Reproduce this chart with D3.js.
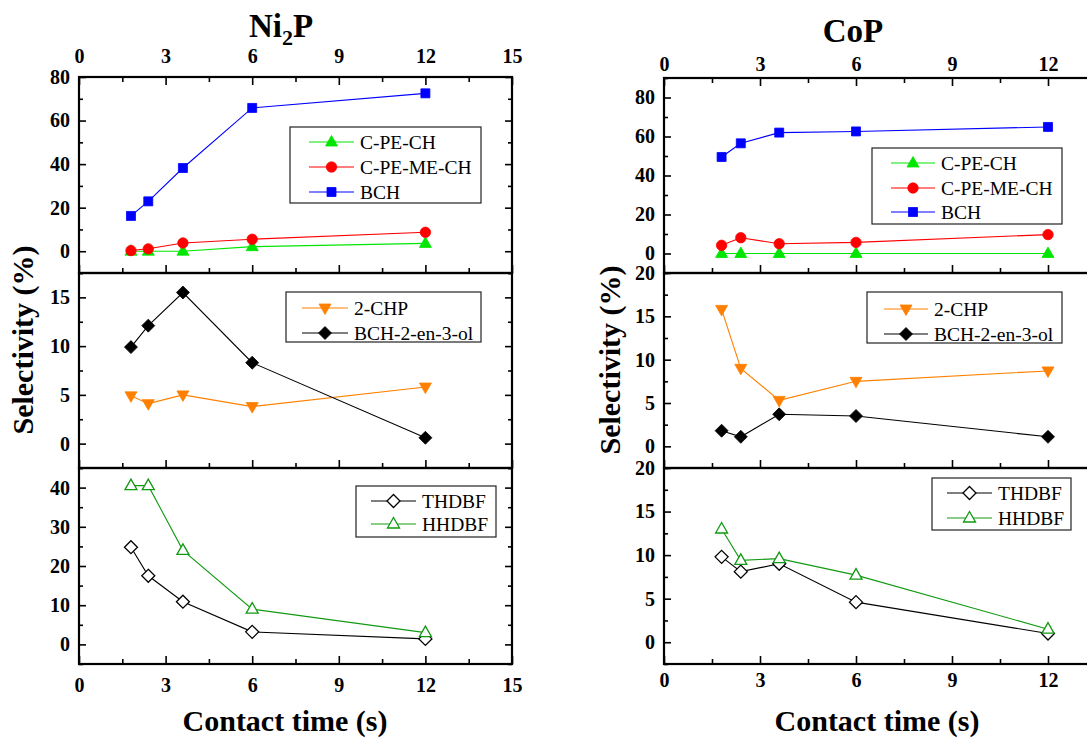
<!DOCTYPE html>
<html>
<head>
<meta charset="utf-8">
<script src="https://cdn.jsdelivr.net/npm/d3@7"></script>
<style>
  body { margin: 0; background: #fff; }
  .tick line { stroke: #000; stroke-width: 1.6; }
</style>
</head>
<body>
<div id="chart"></div>
<script>
// contact time (s) — same for both catalysts
const contactTime = [1.8, 2.4, 3.6, 6, 12];

// Ni2P selectivities (%)
const ni2pCPECH   = [0, 0, 0, 2.1, 3.6];
const ni2pCPEMECH = [0.3, 1.1, 3.8, 5.5, 8.7];
const ni2pBCH     = [16.2, 22.9, 38.2, 65.8, 72.5];
const ni2pCHP     = [4.9, 4.1, 5.0, 3.8, 5.8];
const ni2pBCHol   = [9.9, 12.1, 15.5, 8.3, 0.6];
const ni2pTHDBF   = [24.8, 17.5, 10.9, 3.2, 1.4];
const ni2pHHDBF   = [40.5, 40.5, 24.0, 9.0, 3.0];

// CoP selectivities (%)
const copCPECH   = [0, 0, 0, 0, 0];
const copCPEMECH = [4.2, 8.1, 5.0, 5.7, 9.7];
const copBCH     = [49.5, 56.5, 62.0, 62.6, 64.9];
const copCHP     = [15.8, 9.0, 5.3, 7.5, 8.7];
const copBCHol   = [1.8, 1.1, 3.7, 3.5, 1.1];
const copTHDBF   = [9.8, 8.1, 9.0, 4.6, 1.0];
const copHHDBF   = [13.0, 9.4, 9.6, 7.7, 1.5];

const xTicks = [0, 3, 6, 9, 12, 15];

const width = 1087, height = 744;
const FONT = '"Liberation Serif", "Times New Roman", serif';

const style = {
    'C-PE-CH':       { color: '#00e600', marker: 'triUp',   open: false },
    'C-PE-ME-CH':    { color: '#ff0000', marker: 'circle',  open: false },
    'BCH':           { color: '#0000ff', marker: 'square',  open: false },
    '2-CHP':         { color: '#ff8000', marker: 'triDown', open: false },
    'BCH-2-en-3-ol': { color: '#000000', marker: 'diamond', open: false },
    'THDBF':         { color: '#000000', marker: 'diamond', open: true },
    'HHDBF':         { color: '#119911', marker: 'triUp',   open: true }
};

// marker outlines, centred on 0,0
function markerPath(type) {
    switch (type) {
        case 'square':  return 'M-4.5,-4.5H4.5V4.5H-4.5Z';
        case 'circle':  return 'M5.2,0A5.2,5.2 0 1,1 -5.2,0A5.2,5.2 0 1,1 5.2,0Z';
        case 'triUp':   return 'M0,-6.5L6,4L-6,4Z';
        case 'triDown': return 'M0,6.5L6,-4L-6,-4Z';
        case 'diamond': return 'M0,-6.5L6.5,0L0,6.5L-6.5,0Z';
    }
}

const figures = [
    {
        title: 'Ni', sub: '2', titleEnd: 'P', titleX: 281, titleY: 37,
        x0: 79, unit: (512 - 79) / 15, xMax: 15, topLabelY: 63, bottomLabelY: 692,
        yLabelX: 33, yLabelY: 340, xLabelX: 285,
        panels: [
            { top: 77, bottom: 273, domain: [-10, 80], major: 20, minor: 10, labels: [0, 20, 40, 60, 80],
              series: [['C-PE-CH', ni2pCPECH], ['C-PE-ME-CH', ni2pCPEMECH], ['BCH', ni2pBCH]],
              legend: { x: 290, y: 127, w: 191, h: 76, rows: [142, 167, 192], l0: 309, l1: 354, tx: 360 } },
            { top: 273, bottom: 468, domain: [-2.5, 17.5], major: 5, minor: 2.5, labels: [0, 5, 10, 15],
              series: [['2-CHP', ni2pCHP], ['BCH-2-en-3-ol', ni2pBCHol]],
              legend: { x: 286, y: 292, w: 195, h: 50, rows: [308, 333], l0: 302, l1: 348, tx: 354 } },
            { top: 468, bottom: 664, domain: [-5, 45], major: 10, minor: 5, labels: [0, 10, 20, 30, 40],
              series: [['THDBF', ni2pTHDBF], ['HHDBF', ni2pHHDBF]],
              legend: { x: 356, y: 486, w: 140, h: 51, rows: [501, 524], l0: 371, l1: 416, tx: 422 } }
        ]
    },
    {
        title: 'CoP', sub: '', titleEnd: '', titleX: 853, titleY: 42,
        x0: 664, unit: (1048 - 664) / 12, xMax: 12, topLabelY: 71, bottomLabelY: 687,
        yLabelX: 620, yLabelY: 360, xLabelX: 877,
        panels: [
            { top: 78, bottom: 273, domain: [-10, 90], major: 20, minor: 10, labels: [0, 20, 40, 60, 80],
              series: [['C-PE-CH', copCPECH], ['C-PE-ME-CH', copCPEMECH], ['BCH', copBCH]],
              legend: { x: 872, y: 148, w: 190, h: 76, rows: [163, 188, 212], l0: 891, l1: 935, tx: 941 } },
            { top: 273, bottom: 468, domain: [-2.5, 20], major: 5, minor: 2.5, labels: [0, 5, 10, 15, 20],
              series: [['2-CHP', copCHP], ['BCH-2-en-3-ol', copBCHol]],
              legend: { x: 867, y: 292, w: 195, h: 51, rows: [309, 334], l0: 884, l1: 928, tx: 934 } },
            { top: 468, bottom: 664, domain: [-2.5, 20], major: 5, minor: 2.5, labels: [0, 5, 10, 15, 20],
              series: [['THDBF', copTHDBF], ['HHDBF', copHHDBF]],
              legend: { x: 932, y: 478, w: 139, h: 52, rows: [493, 518], l0: 947, l1: 992, tx: 998 } }
        ]
    }
];

const svg = d3.select('#chart').append('svg')
    .attr('width', width)
    .attr('height', height)
    .style('display', 'block');

function stepValues(domain, step) {
    const out = [];
    for (let v = Math.ceil(domain[0] / step) * step; v <= domain[1] + 1e-9; v += step) out.push(+v.toFixed(4));
    return out;
}

function drawMarker(g, type, cx, cy) {
    const s = style[type];
    g.append('path')
        .attr('d', markerPath(s.marker))
        .attr('transform', `translate(${cx},${cy})`)
        .attr('fill', s.open ? '#fff' : s.color)
        .attr('stroke', s.color)
        .attr('stroke-width', s.open ? 1.3 : 0.8);
}

// d3 axes put sans-serif on their group; switch to bold serif
function tidyAxis(sel) {
    sel.selectAll('.domain').remove();
    sel.attr('font-family', FONT).attr('font-size', 20).attr('font-weight', 'bold');
    sel.selectAll('text').attr('font-family', FONT).attr('font-weight', 'bold').attr('fill', '#000');
}

figures.forEach(fig => {
    const x = d3.scaleLinear().domain([0, 15]).range([fig.x0, fig.x0 + fig.unit * 15]);
    const xMinor = stepValues([0, 15], 1.5).filter(v => xTicks.indexOf(v) < 0);
    const xLab = d3.format('d');
    const xFmt = v => v <= fig.xMax ? xLab(v) : '';
    const right = x(15);
    const fg = svg.append('g');

    fig.panels.forEach((p, i) => {
        const y = d3.scaleLinear().domain(p.domain).range([p.bottom, p.top]);
        const g = fg.append('g');
        const yMajor = stepValues(p.domain, p.major);
        const yMinor = stepValues(p.domain, p.minor).filter(v => yMajor.indexOf(v) < 0);

        // y axis, left, inward ticks
        const yl = g.append('g').attr('transform', `translate(${fig.x0},0)`);
        yl.call(d3.axisLeft(y).tickValues(yMajor)
            .tickSize(-7).tickSizeOuter(0).tickPadding(9)
            .tickFormat(v => p.labels.indexOf(v) >= 0 ? v : ''));
        yl.append('g').call(d3.axisLeft(y).tickValues(yMinor).tickSize(-4).tickSizeOuter(0).tickFormat(''));
        tidyAxis(yl);

        // y axis, right mirror
        const yr = g.append('g').attr('transform', `translate(${right},0)`);
        yr.call(d3.axisRight(y).tickValues(yMajor).tickSize(-7).tickSizeOuter(0).tickFormat(''));
        yr.append('g').call(d3.axisRight(y).tickValues(yMinor).tickSize(-4).tickSizeOuter(0).tickFormat(''));
        tidyAxis(yr);

        // x ticks at bottom of each panel
        const isBottom = i === fig.panels.length - 1;
        const xb = g.append('g').attr('transform', `translate(0,${p.bottom})`);
        xb.call(d3.axisBottom(x).tickValues(xTicks).tickSize(-8).tickSizeOuter(0)
            .tickPadding(fig.bottomLabelY - p.bottom - 14)
            .tickFormat(isBottom ? xFmt : ''));
        xb.append('g').call(d3.axisBottom(x).tickValues(xMinor).tickSize(-5).tickSizeOuter(0).tickFormat(''));
        tidyAxis(xb);

        if (i === 0) {
            const xt = g.append('g').attr('transform', `translate(0,${p.top})`);
            xt.call(d3.axisTop(x).tickValues(xTicks).tickSize(-8).tickSizeOuter(0)
                .tickPadding(p.top - fig.topLabelY).tickFormat(xFmt));
            xt.append('g').call(d3.axisTop(x).tickValues(xMinor).tickSize(-5).tickSizeOuter(0).tickFormat(''));
            tidyAxis(xt);
        }

        // frame
        g.append('rect')
            .attr('x', fig.x0).attr('y', p.top)
            .attr('width', right - fig.x0).attr('height', p.bottom - p.top)
            .attr('fill', 'none').attr('stroke', '#000').attr('stroke-width', 2.2);

        // series
        const line = d3.line().x(d => x(d[0])).y(d => y(d[1]));
        p.series.forEach(([name, vals]) => {
            const pts = contactTime.map((t, k) => [t, vals[k]]);
            g.append('path').datum(pts)
                .attr('d', line)
                .attr('fill', 'none')
                .attr('stroke', style[name].color)
                .attr('stroke-width', 1.1);
        });
        p.series.forEach(([name, vals]) => {
            contactTime.forEach((t, k) => drawMarker(g, name, x(t), y(vals[k])));
        });

        // legend
        const L = p.legend;
        const lg = g.append('g');
        lg.append('rect').attr('x', L.x).attr('y', L.y).attr('width', L.w).attr('height', L.h)
            .attr('fill', '#fff').attr('stroke', '#222').attr('stroke-width', 1.2);
        p.series.forEach(([name], k) => {
            const ry = L.rows[k];
            lg.append('line').attr('x1', L.l0).attr('x2', L.l1).attr('y1', ry).attr('y2', ry)
                .attr('stroke', style[name].color).attr('stroke-width', 1.1);
            drawMarker(lg, name, (L.l0 + L.l1) / 2, ry);
            lg.append('text').attr('x', L.tx).attr('y', ry + 7)
                .attr('font-family', FONT).attr('font-size', 19.5)
                .text(name);
        });
    });

    // title
    const t = fg.append('text')
        .attr('x', fig.titleX).attr('y', fig.titleY)
        .attr('text-anchor', 'middle')
        .attr('font-family', FONT)
        .attr('font-weight', 'bold').attr('font-size', 33);
    t.append('tspan').text(fig.title);
    if (fig.sub) {
        t.append('tspan').attr('font-size', 22).attr('dy', 8).text(fig.sub);
        t.append('tspan').attr('dy', -8).text(fig.titleEnd);
    }

    // axis titles
    fg.append('text')
        .attr('transform', `translate(${fig.yLabelX},${fig.yLabelY}) rotate(-90)`)
        .attr('text-anchor', 'middle')
        .attr('font-family', FONT)
        .attr('font-weight', 'bold').attr('font-size', 30)
        .text('Selectivity (%)');
    fg.append('text')
        .attr('x', fig.xLabelX).attr('y', 731)
        .attr('text-anchor', 'middle')
        .attr('font-family', FONT)
        .attr('font-weight', 'bold').attr('font-size', 30)
        .text('Contact time (s)');
});
</script>
</body>
</html>
